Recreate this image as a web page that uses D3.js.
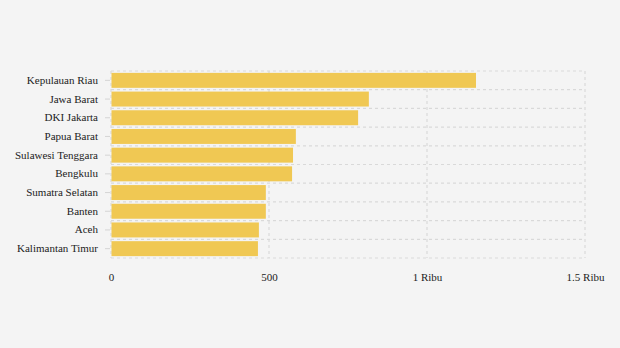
<!DOCTYPE html>
<html>
<head>
<meta charset="utf-8">
<script src="https://cdn.jsdelivr.net/npm/d3@7"></script>
<style>
  html, body { margin: 0; padding: 0; background: #f4f4f4; }
  svg { display: block; }
  text { font-family: "Liberation Serif", "DejaVu Serif", serif; fill: #222; }
</style>
</head>
<body>
<svg id="chart" width="620" height="348"></svg>
<script>
const provinces = ["Kepulauan Riau", "Jawa Barat", "DKI Jakarta", "Papua Barat", "Sulawesi Tenggara",
                   "Bengkulu", "Sumatra Selatan", "Banten", "Aceh", "Kalimantan Timur"];
const values = [1155, 816, 782, 585, 576, 573, 490, 490, 468, 465];
const tickValues = [0, 500, 1000, 1500];
const tickLabels = ["0", "500", "1 Ribu", "1.5 Ribu"];

const svg = d3.select("#chart");
const margin = { top: 71, right: 35, bottom: 90, left: 111 };
const width = 620 - margin.left - margin.right;
const height = 348 - margin.top - margin.bottom;

const g = svg.append("g").attr("transform", `translate(${margin.left},${margin.top})`);

const x = d3.scaleLinear().domain([0, 1500]).range([0, width]);
const y = d3.scaleBand().domain(provinces).range([0, height]).paddingInner(0.2).paddingOuter(0.1);

// vertical grid lines
g.selectAll(".vgrid").data(tickValues).join("line")
  .attr("x1", d => x(d)).attr("x2", d => x(d))
  .attr("y1", 0).attr("y2", height)
  .attr("stroke", "#d9d9d9").attr("stroke-width", 1.2).attr("stroke-dasharray", "3,3");

// horizontal grid lines at the band boundaries
const step = y.step();
const edges = d3.range(provinces.length + 1).map(i => i === provinces.length ? height : y(provinces[i]) - step * y.paddingInner() / 2);
edges[0] = 0;
g.selectAll(".hgrid").data(edges).join("line")
  .attr("x1", 0).attr("x2", width)
  .attr("y1", d => d).attr("y2", d => d)
  .attr("stroke", "#d9d9d9").attr("stroke-width", 1.2).attr("stroke-dasharray", "3,3");

// bars
g.selectAll(".bar").data(provinces).join("rect")
  .attr("x", x(0) + 0.5)
  .attr("y", d => y(d))
  .attr("width", (d, i) => x(values[i]) - x(0) - 0.5)
  .attr("height", y.bandwidth())
  .attr("fill", "#f0c853");

// category axis
const yAxis = g.append("g").call(d3.axisLeft(y).tickSize(5).tickPadding(8));
yAxis.select(".domain").remove();
yAxis.selectAll(".tick line").attr("stroke", "#d4d4d4").attr("x1", -6).attr("x2", -1);
yAxis.selectAll(".tick text").style("font-size", "11px").attr("fill", "#222")
  .attr("font-family", "Liberation Serif, serif");

// value axis
const xAxis = g.append("g").attr("transform", `translate(0,${height})`)
  .call(d3.axisBottom(x).tickValues(tickValues).tickFormat((d, i) => tickLabels[i]).tickSize(0).tickPadding(15));
xAxis.select(".domain").remove();
xAxis.selectAll(".tick text").style("font-size", "11px").attr("fill", "#222")
  .attr("font-family", "Liberation Serif, serif");
</script>
</body>
</html>
